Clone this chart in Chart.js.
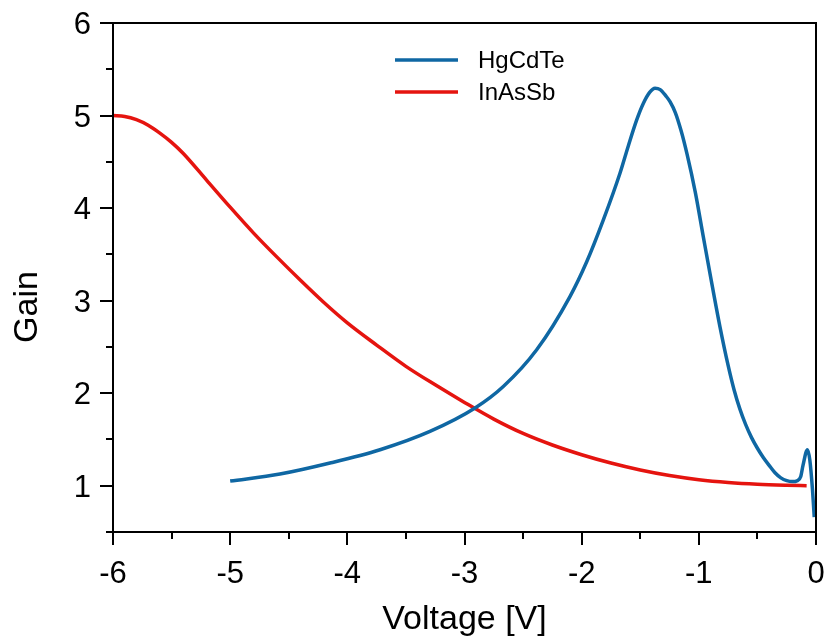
<!DOCTYPE html>
<html>
<head>
<meta charset="utf-8">
<script src="https://cdn.jsdelivr.net/npm/chart.js@4.4.1/dist/chart.umd.min.js"></script>
<style>
html,body{margin:0;padding:0;background:#fff;}
#wrap{width:833px;height:643px;position:relative;}
</style>
</head>
<body>
<div id="wrap"><canvas id="c" width="833" height="643"></canvas></div>
<script>
// ---- data ----
const seriesNames = ['HgCdTe', 'InAsSb'];
const hgcdteV = [-5.0, -4.575, -4.148, -3.721, -3.295, -2.91, -2.669, -2.384, -2.1, -1.957, -1.815, -1.673, -1.6, -1.531, -1.474, -1.42, -1.374, -1.33, -1.28, -1.246, -1.2, -1.15, -1.1, -1.03, -0.962, -0.9, -0.82, -0.75, -0.7, -0.65, -0.6, -0.55, -0.5, -0.45, -0.4, -0.35, -0.3, -0.25, -0.2, -0.16, -0.13, -0.111, -0.073, -0.053, -0.03, -0.015];
const hgcdteG = [1.05, 1.126, 1.245, 1.389, 1.587, 1.84, 2.072, 2.469, 3.044, 3.42, 3.873, 4.377, 4.68, 4.95, 5.13, 5.25, 5.295, 5.28, 5.21, 5.15, 5.03, 4.83, 4.58, 4.17, 3.692, 3.26, 2.72, 2.30, 2.04, 1.83, 1.66, 1.52, 1.405, 1.305, 1.22, 1.14, 1.085, 1.055, 1.045, 1.055, 1.1, 1.22, 1.39, 1.28, 0.957, 0.66];
const inassbV = [-6.0, -5.9, -5.8, -5.7, -5.6, -5.5, -5.4, -5.2, -5.0, -4.8, -4.6, -4.4, -4.2, -4.0, -3.75, -3.5, -3.25, -3.0, -2.75, -2.5, -2.25, -2.0, -1.75, -1.5, -1.25, -1.0, -0.75, -0.5, -0.25, -0.08];
const inassbG = [5.0, 4.99, 4.955, 4.895, 4.81, 4.71, 4.59, 4.30, 4.01, 3.73, 3.47, 3.22, 2.98, 2.76, 2.52, 2.29, 2.09, 1.90, 1.72, 1.565, 1.44, 1.335, 1.245, 1.17, 1.11, 1.065, 1.035, 1.016, 1.005, 1.0];
const xTickValues = [-6, -5, -4, -3, -2, -1, 0];
const yTickValues = [1, 2, 3, 4, 5, 6];
const xTitle = 'Voltage [V]';
const yTitle = 'Gain';

const BLUE = '#0f67a3';
const RED = '#e5140f';
const FONT = '"Liberation Sans", Arial, sans-serif';

function pts(xs, ys){ return xs.map((x,i)=>({x:x, y:ys[i]})); }

const framePlugin = {
  id: 'frame',
  afterDraw(chart){
    const ctx = chart.ctx;
    const ca = chart.chartArea;
    const xs = chart.scales.x, ys = chart.scales.y;
    ctx.save();
    ctx.strokeStyle = '#000';
    ctx.lineWidth = 2;
    ctx.lineCap = 'butt';
    // box
    ctx.beginPath();
    ctx.moveTo(ca.left, ca.bottom); ctx.lineTo(ca.left, ca.top);
    ctx.lineTo(ca.right, ca.top); ctx.lineTo(ca.right, ca.bottom);
    ctx.lineTo(ca.left, ca.bottom);
    ctx.stroke();
    // ticks (major and minor)
    ctx.beginPath();
    for (let v = -6; v <= 0.001; v += 0.5) {
      const p = Math.round(xs.getPixelForValue(v));
      const major = Math.abs(v - Math.round(v)) < 1e-6;
      ctx.moveTo(p, ca.bottom); ctx.lineTo(p, ca.bottom + (major ? 13 : 7));
    }
    for (let v = 0.5; v <= 6.001; v += 0.5) {
      const p = Math.round(ys.getPixelForValue(v));
      const major = Math.abs(v - Math.round(v)) < 1e-6;
      ctx.moveTo(ca.left, p); ctx.lineTo(ca.left - (major ? 13 : 7), p);
    }
    ctx.stroke();
    // tick labels
    ctx.fillStyle = '#000';
    ctx.font = '31px ' + FONT;
    ctx.textBaseline = 'alphabetic';
    ctx.textAlign = 'center';
    xTickValues.forEach(v => {
      ctx.fillText(String(v), xs.getPixelForValue(v), 583);
    });
    ctx.textAlign = 'right';
    yTickValues.forEach(v => {
      ctx.fillText(String(v), 91, ys.getPixelForValue(v) + 11);
    });
    // axis titles
    ctx.font = '34px ' + FONT;
    ctx.textAlign = 'center';
    ctx.fillText(xTitle, (ca.left + ca.right) / 2, 629);
    ctx.save();
    ctx.translate(37, 307);
    ctx.rotate(-Math.PI / 2);
    ctx.fillText(yTitle, 0, 0);
    ctx.restore();
    // legend
    ctx.font = '24px ' + FONT;
    ctx.textAlign = 'left';
    ctx.textBaseline = 'middle';
    chart.data.datasets.forEach((ds, i) => {
      const y = 60 + i * 32;
      ctx.strokeStyle = ds.borderColor;
      ctx.lineWidth = 3.5;
      ctx.beginPath(); ctx.moveTo(395, y); ctx.lineTo(458, y); ctx.stroke();
      ctx.fillStyle = '#000';
      ctx.fillText(ds.label, 478, y + 1);
    });
    ctx.restore();
  }
};

new Chart(document.getElementById('c'), {
  type: 'scatter',
  data: {
    datasets: [
      { label: seriesNames[0], data: pts(hgcdteV, hgcdteG), borderColor: BLUE, backgroundColor: BLUE,
        showLine: true, pointRadius: 0, borderWidth: 3.5, cubicInterpolationMode: 'monotone' },
      { label: seriesNames[1], data: pts(inassbV, inassbG), borderColor: RED, backgroundColor: RED,
        showLine: true, pointRadius: 0, borderWidth: 3.5, cubicInterpolationMode: 'monotone' }
    ]
  },
  options: {
    responsive: false,
    animation: false,
    devicePixelRatio: 1,
    layout: { padding: { top: 23, right: 17, left: 0, bottom: 0 } },
    plugins: { legend: { display: false }, tooltip: { enabled: false } },
    scales: {
      x: {
        type: 'linear', min: -6, max: 0,
        afterBuildTicks(s){ s.ticks = xTickValues.map(v => ({value: v})); },
        afterFit(s){ s.height = 111; },
        grid: { display: false, drawTicks: false },
        border: { display: false },
        ticks: { display: false }
      },
      y: {
        type: 'linear', min: 0.5, max: 6,
        afterBuildTicks(s){ s.ticks = yTickValues.map(v => ({value: v})); },
        afterFit(s){ s.width = 113; },
        grid: { display: false, drawTicks: false },
        border: { display: false },
        ticks: { display: false }
      }
    }
  },
  plugins: [framePlugin]
});
</script>
</body>
</html>
